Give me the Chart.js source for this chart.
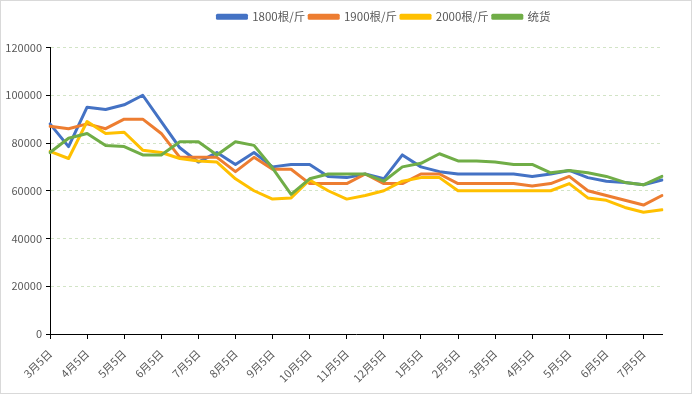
<!DOCTYPE html>
<html>
<head>
<meta charset="utf-8">
<script src="https://cdn.jsdelivr.net/npm/chart.js@4.4.1/dist/chart.umd.min.js"></script>
<style>
    body { margin: 0; background: #fff; }
    canvas { display: block; }
</style>
</head>
<body>
<canvas id="priceChart" width="692" height="394"></canvas>
<script>
// 日期 (每半月一个点)
const categories = ['3月5日', '3月20日', '4月5日', '4月20日', '5月5日', '5月20日', '6月5日', '6月20日',
    '7月5日', '7月20日', '8月5日', '8月20日', '9月5日', '9月20日', '10月5日', '10月20日',
    '11月5日', '11月20日', '12月5日', '12月20日', '1月5日', '1月20日', '2月5日', '2月20日',
    '3月5日', '3月20日', '4月5日', '4月20日', '5月5日', '5月20日', '6月5日', '6月20日',
    '7月5日', '7月20日'];

const seriesNames = ['1800根/斤', '1900根/斤', '2000根/斤', '统货'];

const price1800 = [88000, 78500, 95000, 94000, 96000, 100000, 89000, 78000, 72000, 76000,
    71000, 76000, 70000, 71000, 71000, 66000, 65500, 67000, 65000, 75000,
    70000, 68000, 67000, 67000, 67000, 67000, 66000, 67000, 68500, 65500,
    64000, 63500, 62500, 64500];

const price1900 = [87000, 86000, 88000, 86000, 90000, 90000, 84000, 74000, 74000, 74000,
    68000, 74000, 69000, 69000, 63000, 63000, 63000, 67000, 63000, 63000,
    67000, 67000, 63000, 63000, 63000, 63000, 62000, 63000, 66000, 60000,
    58000, 56000, 54000, 58000];

const price2000 = [76500, 73500, 89000, 84000, 84500, 77000, 76000, 73500, 72500, 72000,
    65000, 60000, 56500, 57000, 64500, 60000, 56500, 58000, 60000, 64000,
    65500, 65500, 60000, 60000, 60000, 60000, 60000, 60000, 63000, 57000,
    56000, 53000, 51000, 52000];

const priceMixed = [76000, 82000, 84000, 79000, 78500, 75000, 75000, 80500, 80500, 75000,
    80500, 79000, 69500, 58500, 65000, 67000, 67000, 67000, 64000, 70000,
    71500, 75500, 72500, 72500, 72000, 71000, 71000, 67500, 68500, 67500,
    66000, 63500, 62500, 66000];

const yMin = 0, yMax = 120000, yStep = 20000;

const colors = ['#4472C4', '#ED7D31', '#FFC000', '#70AD47'];
const allSeries = [price1800, price1900, price2000, priceMixed];
const textColor = '#595959';
const fontFamily = '"Noto Sans CJK SC", "Noto Sans", sans-serif';

// viền ngoài
const framePlugin = {
    id: 'frame',
    afterDraw(chart) {
        const c = chart.ctx;
        c.save();
        c.strokeStyle = '#d9d9d9';
        c.lineWidth = 1;
        c.strokeRect(0.5, 0.5, chart.width - 1, chart.height - 1);
        c.restore();
    }
};

// chú thích: thêm khoảng trống phía dưới và dịch sang phải
const legendShift = {
    id: 'legendShift',
    beforeLayout(chart) {
        const lg = chart.legend;
        if (lg && !lg._patched) {
            const fit = lg.fit;
            lg.fit = function() {
                fit.call(this);
                this.height += 15;
            };
            lg._patched = true;
        }
    },
    afterLayout(chart) {
        const lg = chart.legend;
        if (lg) {
            lg.left += 53;
            lg.right += 53;
        }
    }
};

const datasets = allSeries.map((data, i) => ({
    label: seriesNames[i],
    data: data,
    borderColor: colors[i],
    backgroundColor: colors[i],
    borderWidth: 3,
    pointRadius: 0,
    tension: 0,
    borderJoinStyle: 'round',
    borderCapStyle: 'round',
    order: allSeries.length - i   // series sau vẽ đè lên
}));

new Chart(document.getElementById('priceChart'), {
    type: 'line',
    data: { labels: categories, datasets: datasets },
    plugins: [framePlugin, legendShift],
    options: {
        responsive: false,
        animation: false,
        layout: { padding: { top: 7, right: 30, left: 0, bottom: 0 } },
        plugins: {
            tooltip: { enabled: false },
            legend: {
                position: 'top',
                labels: {
                    boxWidth: 29,
                    boxHeight: 3,
                    padding: 4,
                    color: textColor,
                    font: { family: fontFamily, size: 11.5 },
                    sort: (a, b) => a.datasetIndex - b.datasetIndex
                }
            }
        },
        scales: {
            x: {
                offset: false,
                afterFit: s => { s.height = 60; },
                border: { color: '#000', width: 1 },
                grid: {
                    drawOnChartArea: false,
                    drawTicks: true,
                    tickLength: 5,
                    color: ctx => ctx.index % 2 === 0 ? '#000' : 'rgba(0,0,0,0)'
                },
                ticks: {
                    autoSkip: false,
                    minRotation: 45,
                    maxRotation: 45,
                    padding: 8,
                    color: textColor,
                    font: { family: fontFamily, size: 11 },
                    callback: function(val, index) {
                        return index % 2 === 0 ? this.getLabelForValue(val) : '';
                    }
                }
            },
            y: {
                min: yMin,
                max: yMax,
                afterFit: s => { s.width = 50; },
                border: { color: '#000', width: 1, dash: [3, 3] },
                grid: {
                    color: ctx => ctx.tick && ctx.tick.value === 0 ? 'rgba(0,0,0,0)' : '#d2e4c6',
                    tickColor: '#000',
                    tickLength: 4,
                    tickBorderDash: []
                },
                ticks: {
                    stepSize: yStep,
                    padding: 4,
                    color: textColor,
                    font: { family: fontFamily, size: 11 },
                    callback: v => String(v)
                }
            }
        }
    }
});
</script>
</body>
</html>
